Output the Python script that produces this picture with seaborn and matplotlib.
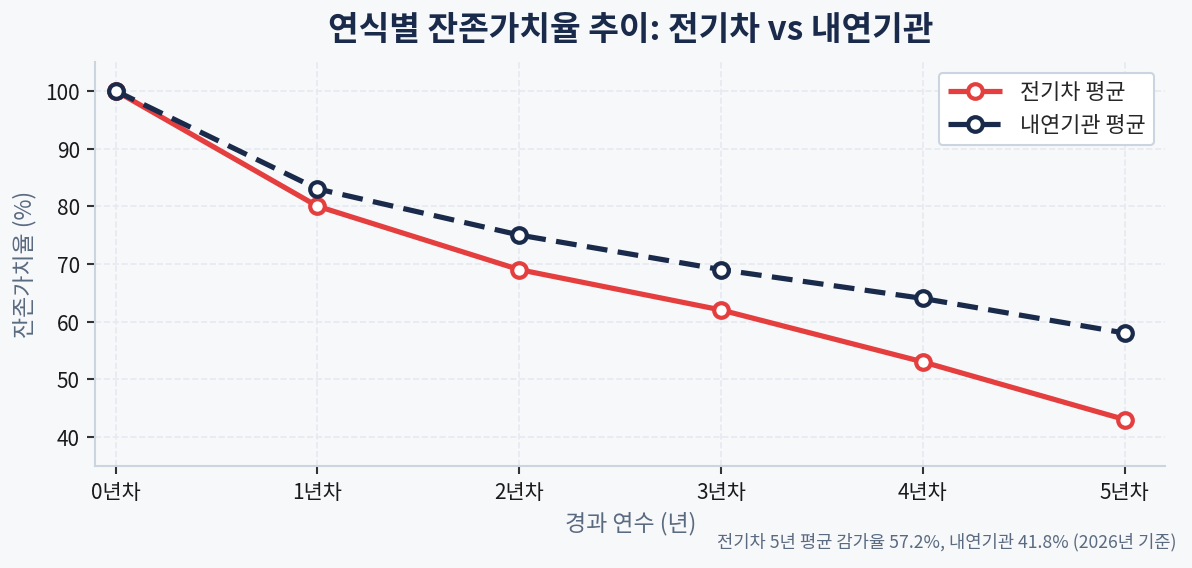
import matplotlib
matplotlib.use('Agg')
import matplotlib.pyplot as plt
import pandas as pd
import seaborn as sns

# 데이터
years = ['0년차', '1년차', '2년차', '3년차', '4년차', '5년차']
ev_values = [100, 80, 69, 62, 53, 43]
ice_values = [100, 83, 75, 69, 64, 58]
series_names = ['전기차 평균', '내연기관 평균']

RED = '#e53e3e'
NAVY = '#1a2a4a'
BG = '#f7f8fa'

sns.set_theme(style='white')
plt.rcParams['font.family'] = ['Noto Sans CJK KR', 'DejaVu Sans']
plt.rcParams['axes.unicode_minus'] = False

df = pd.DataFrame({
    'x': list(range(len(years))) * 2,
    'value': ev_values + ice_values,
    'series': [series_names[0]] * len(years) + [series_names[1]] * len(years),
})

fig, ax = plt.subplots(figsize=(7.95, 3.79), dpi=150)
fig.patch.set_facecolor(BG)
ax.set_facecolor(BG)

sns.lineplot(data=df, x='x', y='value', hue='series', style='series',
             palette=[RED, NAVY], dashes=[(1, 0), (4, 2)],
             markers=['o', 'o'], linewidth=2.5, markersize=7,
             markerfacecolor='white', markeredgewidth=2,
             ax=ax, zorder=3)
for line, c in zip(ax.lines, [RED, NAVY]):
    line.set_markeredgecolor(c)
ax.lines[1].set_zorder(4)

ax.set_xticks(range(len(years)))
ax.set_xticklabels(years)
ax.set_xlim(-0.1, 5.2)
ax.set_ylim(35, 105)
ax.set_yticks([40, 50, 60, 70, 80, 90, 100])
ax.tick_params(axis='both', labelsize=10, colors='#1a1a1a', length=4,
               width=1, left=True, bottom=True)
ax.tick_params(axis='both', color='#333333')

ax.grid(True, linestyle='--', color='#e6e9f0', linewidth=0.8)
ax.set_axisbelow(True)
sns.despine(ax=ax)
for s in ['left', 'bottom']:
    ax.spines[s].set_color('#cbd5e0')
    ax.spines[s].set_linewidth(1)

ax.set_title('연식별 잔존가치율 추이: 전기차 vs 내연기관', fontsize=16,
             fontweight='bold', color=NAVY, pad=11)
ax.set_xlabel('경과 연수 (년)', fontsize=11, color='#5a6a80', labelpad=4)
ax.set_ylabel('잔존가치율 (%)', fontsize=11, color='#5a6a80')

leg = ax.legend(loc='upper right', fontsize=10.5, frameon=True,
                facecolor='white', edgecolor='#cbd5e0', framealpha=1,
                handlelength=2.5)
for h, c in zip(leg.get_lines(), [RED, NAVY]):
    h.set_markerfacecolor('white')
    h.set_markeredgecolor(c)
    h.set_linewidth(2.5)

fig.text(0.987, 0.03, '전기차 5년 평균 감가율 57.2%, 내연기관 41.8% (2026년 기준)',
         ha='right', va='bottom', fontsize=8.5, color='#5a6a80')

fig.subplots_adjust(left=0.08, right=0.977, top=0.89, bottom=0.18)
fig.savefig('out.png', dpi=150, facecolor=BG)
